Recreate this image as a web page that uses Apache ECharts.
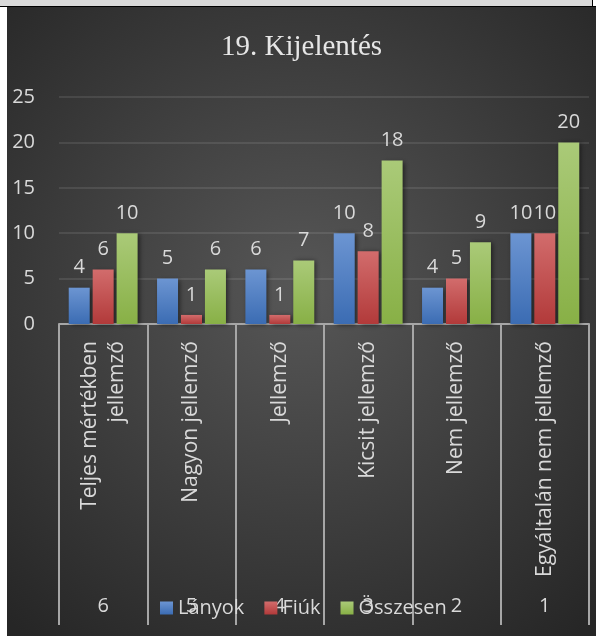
<!DOCTYPE html>
<html>
<head>
<meta charset="utf-8">
<script src="https://cdn.jsdelivr.net/npm/echarts@6/dist/echarts.min.js"></script>
<style>
html,body{margin:0;padding:0;background:#ffffff;width:596px;height:636px;overflow:hidden;}
#band{position:absolute;left:0;top:0;width:592px;height:6px;background:#d9d9d9;border-right:1px solid #000;}
#line{position:absolute;left:0;top:6px;width:596px;height:1px;background:#000;}
#chart{position:absolute;left:7px;top:7px;width:589px;height:629px;}
</style>
</head>
<body>
<div id="band"></div>
<div id="line"></div>
<div id="chart"></div>
<script>
const categories = ["Teljes mértékben\njellemző", "Nagyon jellemző", "Jellemző", "Kicsit jellemző", "Nem jellemző", "Egyáltalán nem jellemző"];
const rankLabels = ["6", "5", "4", "3", "2", "1"];
const seriesNames = ["Lányok", "Fiúk", "Összesen"];
const lanyok = [4, 5, 6, 10, 4, 10];
const fiuk = [6, 1, 1, 8, 5, 10];
const osszesen = [10, 6, 7, 18, 9, 20];
const yTicks = { min: 0, max: 25, interval: 5 };

const txt = '#d9d9d9';
const font = '"Open Sans", sans-serif';
function grad(top, bottom) {
  return new echarts.graphic.LinearGradient(0, 0, 0, 1, [
    { offset: 0, color: top }, { offset: 1, color: bottom }
  ]);
}
function mk(name, data, top, bottom) {
  return {
    name: name, type: 'bar', data: data,
    barGap: '14%', barCategoryGap: '22%',
    itemStyle: { color: grad(top, bottom), shadowBlur: 5, shadowColor: 'rgba(0,0,0,0.55)', shadowOffsetX: 2, shadowOffsetY: 1 },
    label: { show: true, position: 'top', distance: 10, color: txt, fontSize: 20, fontFamily: font }
  };
}
const chart = echarts.init(document.getElementById('chart'), null, { renderer: 'canvas' });
chart.setOption({
  animation: false,
  backgroundColor: new echarts.graphic.RadialGradient(0.5, 0.45, 0.75, [
    { offset: 0, color: '#575757' }, { offset: 1, color: '#262626' }
  ]),
  title: {
    text: '19. Kijelentés', left: 'center', top: 21,
    textStyle: { color: '#e6e6e6', fontSize: 29, fontWeight: 'normal', fontFamily: '"Liberation Serif", "DejaVu Serif", serif' }
  },
  legend: {
    data: seriesNames, left: 148, top: 586, itemWidth: 13, itemHeight: 13, itemGap: 20,
    icon: 'rect',
    textStyle: { color: txt, fontSize: 20, fontFamily: font }
  },
  grid: { left: 52, right: 7, top: 90, bottom: 312, containLabel: false },
  xAxis: [{
    type: 'category', data: categories, position: 'bottom',
    axisLine: { show: true, lineStyle: { color: '#a6a6a6', width: 2 } },
    axisTick: { show: true, interval: 0, length: 301, lineStyle: { color: '#a6a6a6', width: 2 } },
    axisLabel: { interval: 0, rotate: 90, margin: 17, color: txt, fontSize: 21, lineHeight: 27, fontFamily: font }
  }, {
    type: 'category', data: rankLabels, position: 'bottom', gridIndex: 0,
    axisLine: { show: false }, axisTick: { show: false },
    axisLabel: { interval: 0, margin: 272, color: txt, fontSize: 20, fontFamily: font }
  }],
  yAxis: {
    type: 'value', min: yTicks.min, max: yTicks.max, interval: yTicks.interval,
    axisLine: { show: false }, axisTick: { show: false },
    axisLabel: { margin: 24, color: txt, fontSize: 20, fontFamily: font },
    splitLine: { lineStyle: { color: 'rgba(255,255,255,0.13)', width: 1.5 } }
  },
  series: [
    mk(seriesNames[0], lanyok, '#6c95d2', '#3b6cb3'),
    mk(seriesNames[1], fiuk, '#d26c6c', '#b23a3a'),
    mk(seriesNames[2], osszesen, '#aaca78', '#88b046')
  ]
});
</script>
</body>
</html>
